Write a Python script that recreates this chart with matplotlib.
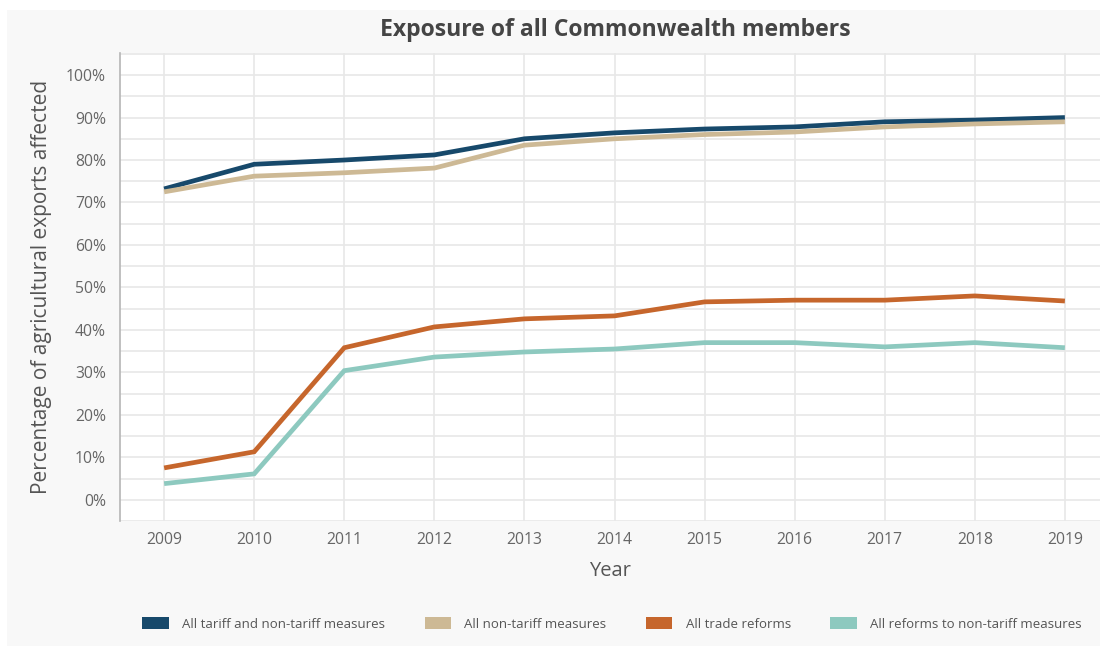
import numpy as np
import matplotlib.pyplot as plt
from matplotlib.patches import Patch, Rectangle
from matplotlib.ticker import MultipleLocator, FuncFormatter

plt.rcParams['font.family'] = ['Open Sans', 'DejaVu Sans']

years = [2009, 2010, 2011, 2012, 2013, 2014, 2015, 2016, 2017, 2018, 2019]

all_measures = [73.2, 79.0, 80.0, 81.2, 85.0, 86.4, 87.3, 87.8, 89.0, 89.4, 90.0]
non_tariff = [72.5, 76.2, 77.0, 78.1, 83.5, 85.0, 86.0, 86.6, 87.8, 88.5, 89.0]
trade_reforms = [7.5, 11.3, 35.8, 40.7, 42.6, 43.3, 46.6, 47.0, 47.0, 48.0, 46.8]
ntm_reforms = [3.8, 6.1, 30.4, 33.6, 34.8, 35.5, 37.0, 37.0, 36.0, 37.0, 35.8]

series_names = ['All tariff and non-tariff measures', 'All non-tariff measures',
                'All trade reforms', 'All reforms to non-tariff measures']
series_colors = ['#17496b', '#cdb995', '#c6662c', '#8dc9bf']

W, H = 1100, 646
fig = plt.figure(figsize=(W / 100, H / 100), dpi=100, facecolor='white')

# light grey card behind everything
fig.patches.append(Rectangle((7 / W, 0), 1 - 7 / W, 1 - 10 / H, transform=fig.transFigure,
                             facecolor='#f8f8f8', edgecolor='none', zorder=-10))

ax = fig.add_axes([120 / W, 1 - 521 / H, 1 - 120 / W, (521 - 53) / H])
ax.set_facecolor('white')

for vals, col in zip([all_measures, non_tariff, trade_reforms, ntm_reforms], series_colors):
    ax.plot(years, vals, color=col, lw=3.4, solid_capstyle='butt', solid_joinstyle='miter', zorder=3)

ax.set_xlim(2008.51, 2019.39)
ax.set_ylim(-5, 105.2)
ax.set_xticks(years)
ax.yaxis.set_major_locator(MultipleLocator(10))
ax.yaxis.set_minor_locator(MultipleLocator(5))
ax.set_yticks(np.arange(0, 101, 10))
ax.yaxis.set_major_formatter(FuncFormatter(lambda v, p: f'{v:.0f}%'))

ax.grid(True, which='both', axis='y', color='#e8e8e8', lw=1.2, zorder=0)
ax.grid(True, which='major', axis='x', color='#e8e8e8', lw=1.2, zorder=0)

for s in ['top', 'right', 'bottom']:
    ax.spines[s].set_visible(False)
ax.spines['left'].set_color('#b5b5b5')
ax.spines['left'].set_linewidth(1.2)

ax.tick_params(axis='both', which='both', length=0, labelsize=11.3, labelcolor='#666666')
ax.tick_params(axis='y', pad=10)
ax.tick_params(axis='x', pad=8)

ax.set_ylabel('Percentage of agricultural exports affected', fontsize=15, color='#555555', labelpad=10)
ax.set_xlabel('Year', fontsize=14.5, color='#555555', labelpad=9)

fig.text(615 / W, 1 - 30 / H, 'Exposure of all Commonwealth members', ha='center', va='center',
         fontsize=16.6, fontweight='bold', color='#454545')

handles = [Patch(facecolor=c, edgecolor='none') for c in series_colors]
fig.legend(handles, series_names, loc='center', bbox_to_anchor=(612 / W, 1 - 624 / H), ncol=4,
           frameon=False, fontsize=9.5, handlelength=2.0, handleheight=1.0, handletextpad=1.0,
           columnspacing=3.0, labelcolor='#555555')

fig.savefig('out.png', dpi=100, facecolor='white')
